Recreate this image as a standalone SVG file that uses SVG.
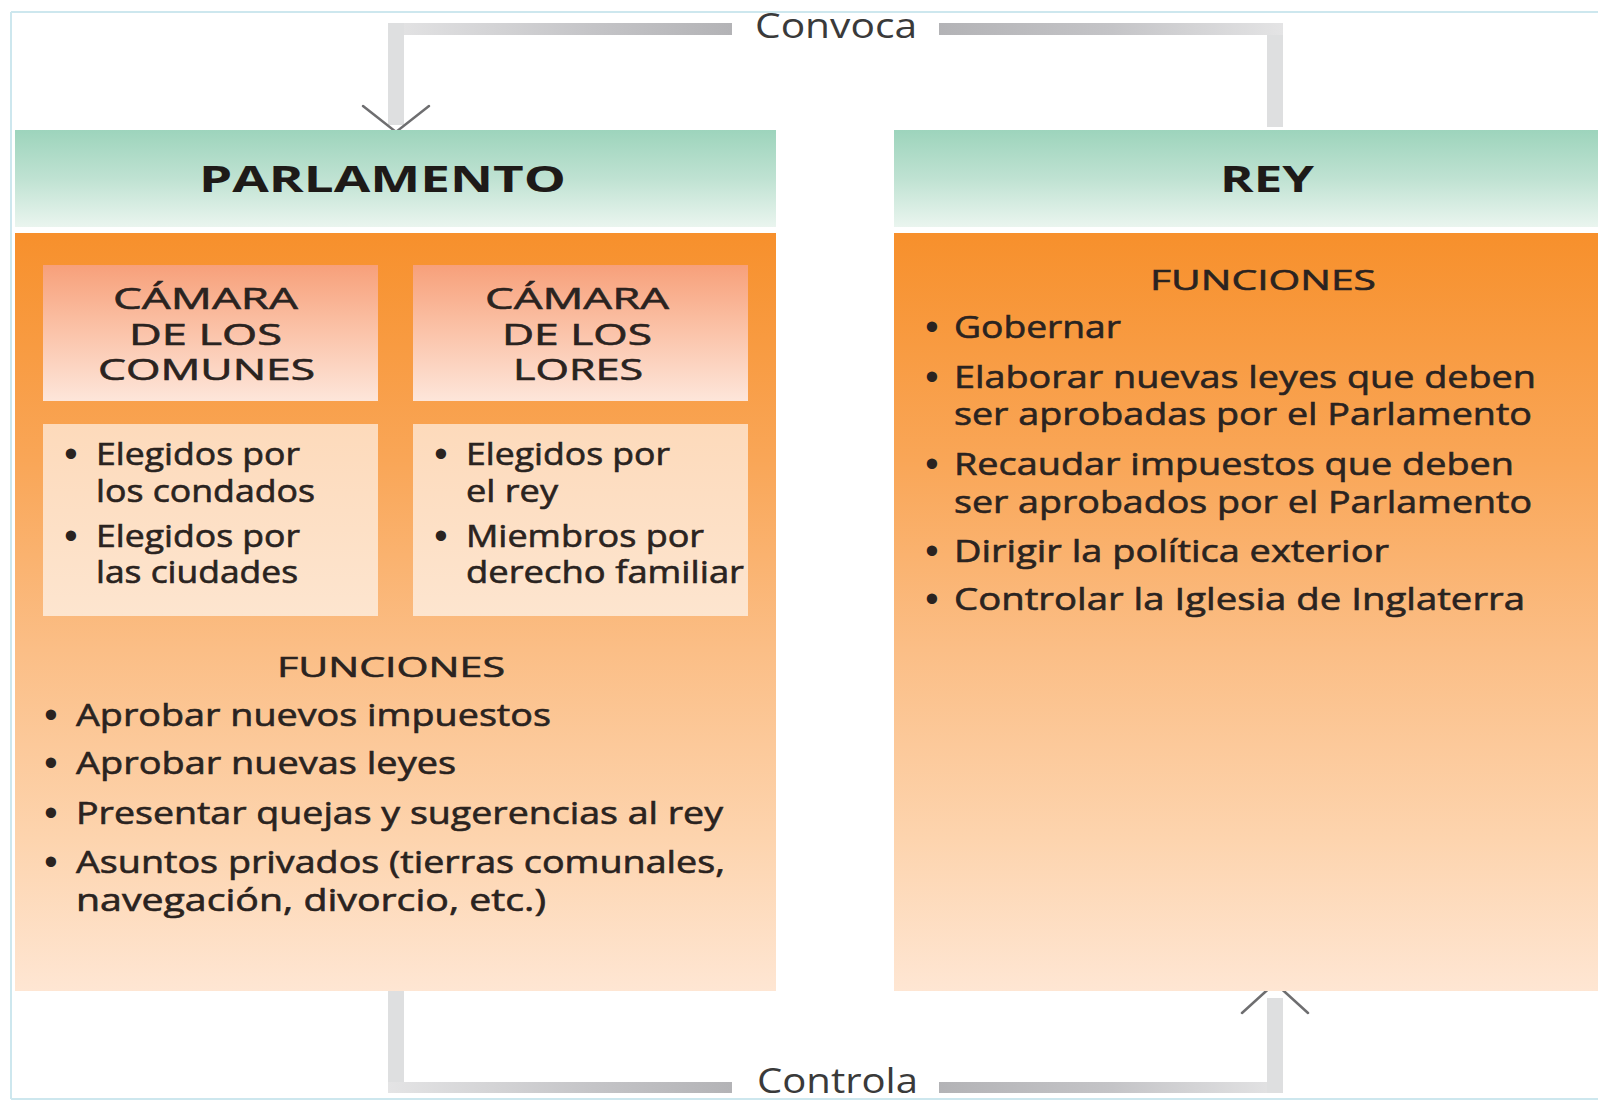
<svg xmlns="http://www.w3.org/2000/svg" width="1598" height="1101" viewBox="0 0 1598 1101">
  <style>
    .t { font-family: "Open Sans", "Liberation Sans", sans-serif; fill: #2a2320; stroke: #2a2320; stroke-width: 0.6; }
    .body { font-size: 31px; }
    .head { font-size: 30px; }
    .fun { font-size: 28px; }
    .title { font-family: "Open Sans", "DejaVu Sans", sans-serif; font-size: 35px; font-weight: 700; fill: #1e1a18; }
    .lbl { font-family: "Open Sans", "Liberation Sans", sans-serif; font-size: 34px; fill: #3a3a3a; }
    .bul { font-family: "Liberation Sans", "DejaVu Sans", sans-serif; font-size: 38px; fill: #2a2320; text-anchor: middle; }
    .vline { fill: #dedfe0; }
    .chev { fill: none; stroke: #6e6e70; stroke-width: 2.5; stroke-linecap: round; stroke-linejoin: miter; }
  </style>
  <defs>
    <linearGradient id="gGreen" x1="0" y1="0" x2="0" y2="1">
      <stop offset="0" stop-color="#9dd4bc"/>
      <stop offset="0.5" stop-color="#bfe2d2"/>
      <stop offset="1" stop-color="#eaf5ef"/>
    </linearGradient>
    <linearGradient id="gOrange" x1="0" y1="0" x2="0" y2="1">
      <stop offset="0" stop-color="#f7902c"/>
      <stop offset="0.3" stop-color="#f9a657"/>
      <stop offset="0.55" stop-color="#fbbe86"/>
      <stop offset="0.8" stop-color="#fdd4ae"/>
      <stop offset="1" stop-color="#fee6d3"/>
    </linearGradient>
    <linearGradient id="gSalmon" x1="0" y1="0" x2="0" y2="1">
      <stop offset="0" stop-color="#f7a07a"/>
      <stop offset="0.5" stop-color="#fbc4aa"/>
      <stop offset="1" stop-color="#fde6da"/>
    </linearGradient>
    <linearGradient id="gPeach" x1="0" y1="0" x2="0" y2="1">
      <stop offset="0" stop-color="#fddabb"/>
      <stop offset="1" stop-color="#fde5cf"/>
    </linearGradient>
    <linearGradient id="gLineL" x1="0" y1="0" x2="1" y2="0">
      <stop offset="0" stop-color="#e4e4e5"/>
      <stop offset="0.6" stop-color="#c4c4c7"/>
      <stop offset="1" stop-color="#b3b3b6"/>
    </linearGradient>
    <linearGradient id="gLineR" x1="0" y1="0" x2="1" y2="0">
      <stop offset="0" stop-color="#b3b3b6"/>
      <stop offset="0.5" stop-color="#c4c4c7"/>
      <stop offset="1" stop-color="#e4e4e5"/>
    </linearGradient>
  </defs>

  <rect x="0" y="0" width="1598" height="1101" fill="#ffffff"/>
  <!-- frame -->
  <g id="frame" fill="none" stroke="#cde7ee" stroke-width="2">
    <line x1="11" y1="12" x2="1598" y2="12"/>
    <line x1="11" y1="12" x2="11" y2="1099"/>
    <line x1="11" y1="1099" x2="1598" y2="1099"/>
  </g>

  <!-- connectors -->
  <g id="connectors">
    <!-- Convoca: REY -> PARLAMENTO -->
    <rect class="vline" x="1267" y="23" width="16" height="104"/>
    <rect x="939" y="23" width="344" height="12" fill="url(#gLineR)"/>
    <rect x="388" y="23" width="344" height="12" fill="url(#gLineL)"/>
    <rect class="vline" x="388" y="23" width="16" height="102"/>
    <polyline class="chev" points="363,106 396,132 429,106"/>
    <!-- Controla: PARLAMENTO -> REY -->
    <rect class="vline" x="388" y="991" width="16" height="102"/>
    <rect x="388" y="1082" width="344" height="11" fill="url(#gLineL)"/>
    <rect x="939" y="1082" width="344" height="11" fill="url(#gLineR)"/>
    <rect class="vline" x="1267" y="998" width="16" height="95"/>
    <polyline class="chev" points="1242,1013 1275,983 1308,1013"/>
    <text class="lbl" x="755" y="38" textLength="162" lengthAdjust="spacingAndGlyphs">Convoca</text>
    <text class="lbl" x="757" y="1093" textLength="161" lengthAdjust="spacingAndGlyphs">Controla</text>
  </g>

  <!-- PARLAMENTO node -->
  <g id="parlamento">
    <rect x="15" y="130" width="761" height="97" fill="url(#gGreen)"/>
    <rect x="15" y="233" width="761" height="758" fill="url(#gOrange)"/>
    <text class="title" x="199" y="192" textLength="367" lengthAdjust="spacingAndGlyphs">PARLAMENTO</text>

    <g id="camara-comunes">
      <rect x="43" y="265" width="335" height="136" fill="url(#gSalmon)"/>
      <text class="t head" x="113" y="309" textLength="185" lengthAdjust="spacingAndGlyphs">CÁMARA</text>
      <text class="t head" x="129" y="345" textLength="153" lengthAdjust="spacingAndGlyphs">DE LOS</text>
      <text class="t head" x="98" y="380" textLength="217" lengthAdjust="spacingAndGlyphs">COMUNES</text>
      <rect x="43" y="424" width="335" height="192" fill="url(#gPeach)"/>
      <text class="bul" x="71" y="467">•</text>
      <text class="t body" x="96" y="465" textLength="204" lengthAdjust="spacingAndGlyphs">Elegidos por</text>
      <text class="t body" x="96" y="502" textLength="219" lengthAdjust="spacingAndGlyphs">los condados</text>
      <text class="bul" x="71" y="549">•</text>
      <text class="t body" x="96" y="547" textLength="204" lengthAdjust="spacingAndGlyphs">Elegidos por</text>
      <text class="t body" x="96" y="583" textLength="202" lengthAdjust="spacingAndGlyphs">las ciudades</text>
    </g>

    <g id="camara-lores">
      <rect x="413" y="265" width="335" height="136" fill="url(#gSalmon)"/>
      <text class="t head" x="485" y="309" textLength="184" lengthAdjust="spacingAndGlyphs">CÁMARA</text>
      <text class="t head" x="502" y="345" textLength="150" lengthAdjust="spacingAndGlyphs">DE LOS</text>
      <text class="t head" x="513" y="380" textLength="130" lengthAdjust="spacingAndGlyphs">LORES</text>
      <rect x="413" y="424" width="335" height="192" fill="url(#gPeach)"/>
      <text class="bul" x="441" y="467">•</text>
      <text class="t body" x="466" y="465" textLength="204" lengthAdjust="spacingAndGlyphs">Elegidos por</text>
      <text class="t body" x="466" y="502" textLength="92" lengthAdjust="spacingAndGlyphs">el rey</text>
      <text class="bul" x="441" y="549">•</text>
      <text class="t body" x="466" y="547" textLength="238" lengthAdjust="spacingAndGlyphs">Miembros por</text>
      <text class="t body" x="466" y="583" textLength="278" lengthAdjust="spacingAndGlyphs">derecho familiar</text>
    </g>

    <text class="t fun" x="277" y="677" textLength="228" lengthAdjust="spacingAndGlyphs">FUNCIONES</text>
    <text class="bul" x="51" y="728">•</text>
    <text class="t body" x="76" y="726" textLength="475" lengthAdjust="spacingAndGlyphs">Aprobar nuevos impuestos</text>
    <text class="bul" x="51" y="776">•</text>
    <text class="t body" x="76" y="774" textLength="380" lengthAdjust="spacingAndGlyphs">Aprobar nuevas leyes</text>
    <text class="bul" x="51" y="826">•</text>
    <text class="t body" x="76" y="824" textLength="647" lengthAdjust="spacingAndGlyphs">Presentar quejas y sugerencias al rey</text>
    <text class="bul" x="51" y="875">•</text>
    <text class="t body" x="76" y="873" textLength="649" lengthAdjust="spacingAndGlyphs">Asuntos privados (tierras comunales,</text>
    <text class="t body" x="76" y="911" textLength="470" lengthAdjust="spacingAndGlyphs">navegación, divorcio, etc.)</text>
  </g>

  <!-- REY node -->
  <g id="rey">
    <rect x="894" y="130" width="704" height="97" fill="url(#gGreen)"/>
    <rect x="894" y="233" width="704" height="758" fill="url(#gOrange)"/>
    <text class="title" x="1220" y="192" textLength="94" lengthAdjust="spacingAndGlyphs">REY</text>
    <text class="t fun" x="1150" y="290" textLength="226" lengthAdjust="spacingAndGlyphs">FUNCIONES</text>
    <text class="bul" x="932" y="340">•</text>
    <text class="t body" x="954" y="338" textLength="167" lengthAdjust="spacingAndGlyphs">Gobernar</text>
    <text class="bul" x="932" y="390">•</text>
    <text class="t body" x="954" y="388" textLength="582" lengthAdjust="spacingAndGlyphs">Elaborar nuevas leyes que deben</text>
    <text class="t body" x="954" y="425" textLength="578" lengthAdjust="spacingAndGlyphs">ser aprobadas por el Parlamento</text>
    <text class="bul" x="932" y="477">•</text>
    <text class="t body" x="954" y="475" textLength="560" lengthAdjust="spacingAndGlyphs">Recaudar impuestos que deben</text>
    <text class="t body" x="954" y="513" textLength="578" lengthAdjust="spacingAndGlyphs">ser aprobados por el Parlamento</text>
    <text class="bul" x="932" y="564">•</text>
    <text class="t body" x="954" y="562" textLength="435" lengthAdjust="spacingAndGlyphs">Dirigir la política exterior</text>
    <text class="bul" x="932" y="612">•</text>
    <text class="t body" x="954" y="610" textLength="571" lengthAdjust="spacingAndGlyphs">Controlar la Iglesia de Inglaterra</text>
  </g>
</svg>
